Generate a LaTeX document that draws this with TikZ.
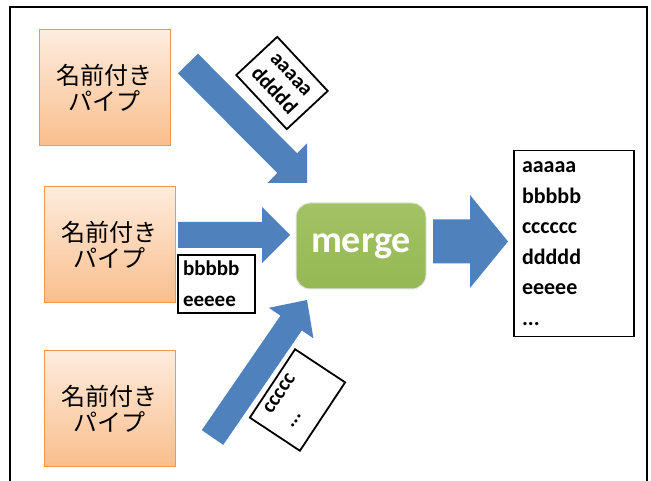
\documentclass[tikz,border=0pt]{standalone}
\usepackage{fontspec}
\setmainfont{Carlito}
\newfontfamily\jpfont{Noto Sans CJK JP}
\usetikzlibrary{calc}
\definecolor{ablue}{RGB}{79,129,189}
\definecolor{pipeborder}{RGB}{247,150,70}
\definecolor{pipetop}{RGB}{254,236,222}
\definecolor{pipebot}{RGB}{250,190,140}
\definecolor{mgtop}{RGB}{163,194,100}
\definecolor{mgbot}{RGB}{150,184,84}
\newcommand\blockarr[5]{%
  \coordinate (#1-b) at ($(#2)!#4!(#1)$);
  \fill[ablue] ($(#1)!#3!90:(#2)$) -- ($(#1-b)!#3!90:(#2)$) -- ($(#1-b)!#5!90:(#2)$)
    -- (#2) -- ($(#1-b)!#5!-90:(#2)$) -- ($(#1-b)!#3!-90:(#2)$) -- ($(#1)!#3!-90:(#2)$) -- cycle;}
\tikzset{
  pipe/.style={draw=pipeborder, line width=1pt, top color=pipetop, bottom color=pipebot,
    minimum width=131pt, minimum height=116pt, align=center, inner sep=0pt,
    font=\jpfont\fontsize{24}{26}\selectfont},
  mergebox/.style={draw=white!80!gray, line width=1pt, top color=mgtop, bottom color=mgbot,
    rounded corners=14pt, minimum width=130pt, minimum height=86pt, text=white,
    font=\fontsize{38}{40}\selectfont\bfseries},
  lab/.style={draw=black, line width=1.8pt, fill=white, inner sep=0pt},
  labtext/.style={font=\fontsize{21}{24}\selectfont\bfseries, inner sep=0pt}
}
\begin{document}
\begin{tikzpicture}[x=1pt,y=-1pt]
\useasboundingbox (0,0) rectangle (651,481);
\fill[white] (0,0) rectangle (651,481);
\draw[line width=2.5pt] (10,483) -- (10,7) -- (647,7) -- (647,483);

\node[pipe] (p1) at (104.5,88) {名前付き\\パイプ};
\node[pipe] (p2) at (109.5,244.5) {名前付き\\パイプ};
\node[pipe] (p3) at (109.5,408.5) {名前付き\\パイプ};

\node[mergebox] (m) at (361,246) {merge};

\coordinate (a1) at (188,63.5);
\coordinate (a1h) at (307,183);
\coordinate (a2) at (178,235);
\coordinate (a2h) at (290,235);
\coordinate (a3) at (212.5,437.5);
\coordinate (a3h) at (307,300);
\coordinate (a4) at (433,241.5);
\coordinate (a4h) at (508,241.5);
\blockarr{a1}{a1h}{14pt}{28pt}{28pt}
\blockarr{a2}{a2h}{13pt}{28pt}{28pt}
\blockarr{a3}{a3h}{13pt}{28pt}{27pt}
\blockarr{a4}{a4h}{22pt}{38pt}{46.5pt}

\node[lab, rotate=-47, minimum width=74pt, minimum height=56pt, align=center,
  font=\fontsize{21}{24}\selectfont\bfseries] (l1) at (282,83) {aaaaa\\ddddd};

\node[lab, minimum height=58pt, text width=67pt, inner xsep=5pt, align=left,
  font=\fontsize{21}{31}\selectfont\bfseries] (l2) at (216.5,284) {bbbbb\\eeeee};

\node[lab, rotate=56.5, minimum width=82pt, minimum height=60pt] (l3) at (297.5,400) {};
\node[labtext, rotate=56.5, anchor=north west, align=left, inner xsep=15pt, inner ysep=7pt,
  font=\fontsize{21}{25}\selectfont\bfseries] (l3t) at (l3.north west) {ccccc\\...};

\node[lab, minimum height=186pt, text width=104pt, inner xsep=8pt, align=left,
  font=\fontsize{22}{30.5}\selectfont\bfseries] (out) at (574,243.5)
  {aaaaa\\bbbbb\\cccccc\\ddddd\\eeeee\\...};
\end{tikzpicture}
\end{document}
